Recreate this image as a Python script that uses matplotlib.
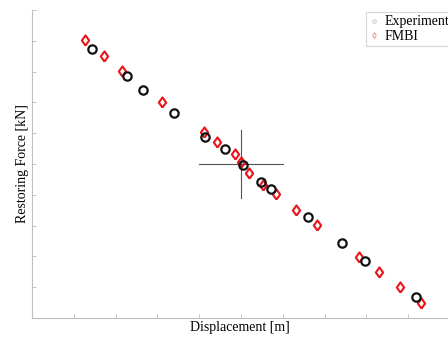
import matplotlib
matplotlib.use("Agg")
import matplotlib.pyplot as plt
from matplotlib.lines import Line2D

# Experiment (black circles)
exp_x = [1.43, 2.27, 2.66, 3.40, 4.15, 4.62, 5.04, 5.47, 5.71, 6.60, 7.42, 7.97, 9.19]
exp_y = [8.73, 7.85, 7.40, 6.67, 5.89, 5.48, 4.98, 4.42, 4.18, 3.29, 2.43, 1.86, 0.68]

# FMBI (red diamonds)
fmbi_x = [1.27, 1.72, 2.16, 3.12, 4.11, 4.43, 4.86, 4.99, 5.19, 5.53, 5.84, 6.32, 6.83, 7.82, 8.31, 8.81, 9.31]
fmbi_y = [9.03, 8.51, 8.03, 7.00, 6.03, 5.71, 5.32, 5.06, 4.72, 4.32, 4.03, 3.51, 3.01, 1.99, 1.49, 1.01, 0.50]

# crosshair centre and half-lengths
cross_x, cross_y = 5.0, 5.0
cross_dx, cross_dy = 1.0, 1.12

x_ticks = list(range(0, 10))
y_ticks = list(range(0, 11))

plt.rcParams['font.family'] = ['Liberation Serif', 'DejaVu Serif']

diamond = [(0, -1), (0.72, 0), (0, 1), (-0.72, 0), (0, -1)]

fig = plt.figure(figsize=(4.48, 3.37), dpi=100)
ax = fig.add_axes([32/448, 19/337, 416/448, 308/337])
ax.set_xlim(0, 416/41.8)
ax.set_ylim(0, 10)

ax.plot([cross_x - cross_dx, cross_x + cross_dx], [cross_y, cross_y], color='#555555', lw=0.8, zorder=1)
ax.plot([cross_x, cross_x], [cross_y - cross_dy, cross_y + cross_dy], color='#555555', lw=0.8, zorder=1)

ax.plot(fmbi_x, fmbi_y, linestyle='none', marker=diamond, markersize=7.3, markerfacecolor='none',
        markeredgecolor='#e8141a', markeredgewidth=1.5, zorder=2)
ax.plot(exp_x, exp_y, linestyle='none', marker='o', markersize=6, markerfacecolor='none',
        markeredgecolor='#111111', markeredgewidth=1.6, zorder=3)

ax.set_xticks(x_ticks)
ax.set_yticks(y_ticks)
ax.tick_params(direction='in', length=3, width=0.6, color='#bbbbbb', labelbottom=False, labelleft=False)
for s in ['top', 'right']:
    ax.spines[s].set_visible(False)
for s in ['left', 'bottom']:
    ax.spines[s].set_color('#c0c0c0')
    ax.spines[s].set_linewidth(0.8)

ax.set_xlabel('Displacement [m]', fontsize=10, labelpad=2)
ax.set_ylabel('Restoring Force [kN]', fontsize=10, labelpad=2)

handles = [Line2D([], [], linestyle='none', marker='o', markersize=2.5, markerfacecolor='none',
                  markeredgecolor='#bbbbbb', markeredgewidth=0.6),
           Line2D([], [], linestyle='none', marker='d', markersize=3, markerfacecolor='none',
                  markeredgecolor='#f08080', markeredgewidth=0.6)]
leg = ax.legend(handles, ['Experiment', 'FMBI'], loc='upper left',
                bbox_to_anchor=(334/416, 1.0 - 2/308), fontsize=10, frameon=True,
                fancybox=False, borderpad=0.25, handlelength=0.7, handletextpad=0.35,
                labelspacing=0.1, borderaxespad=0)
leg.get_frame().set_edgecolor('#cccccc')
leg.get_frame().set_linewidth(0.8)

fig.savefig('out.png', dpi=100)
